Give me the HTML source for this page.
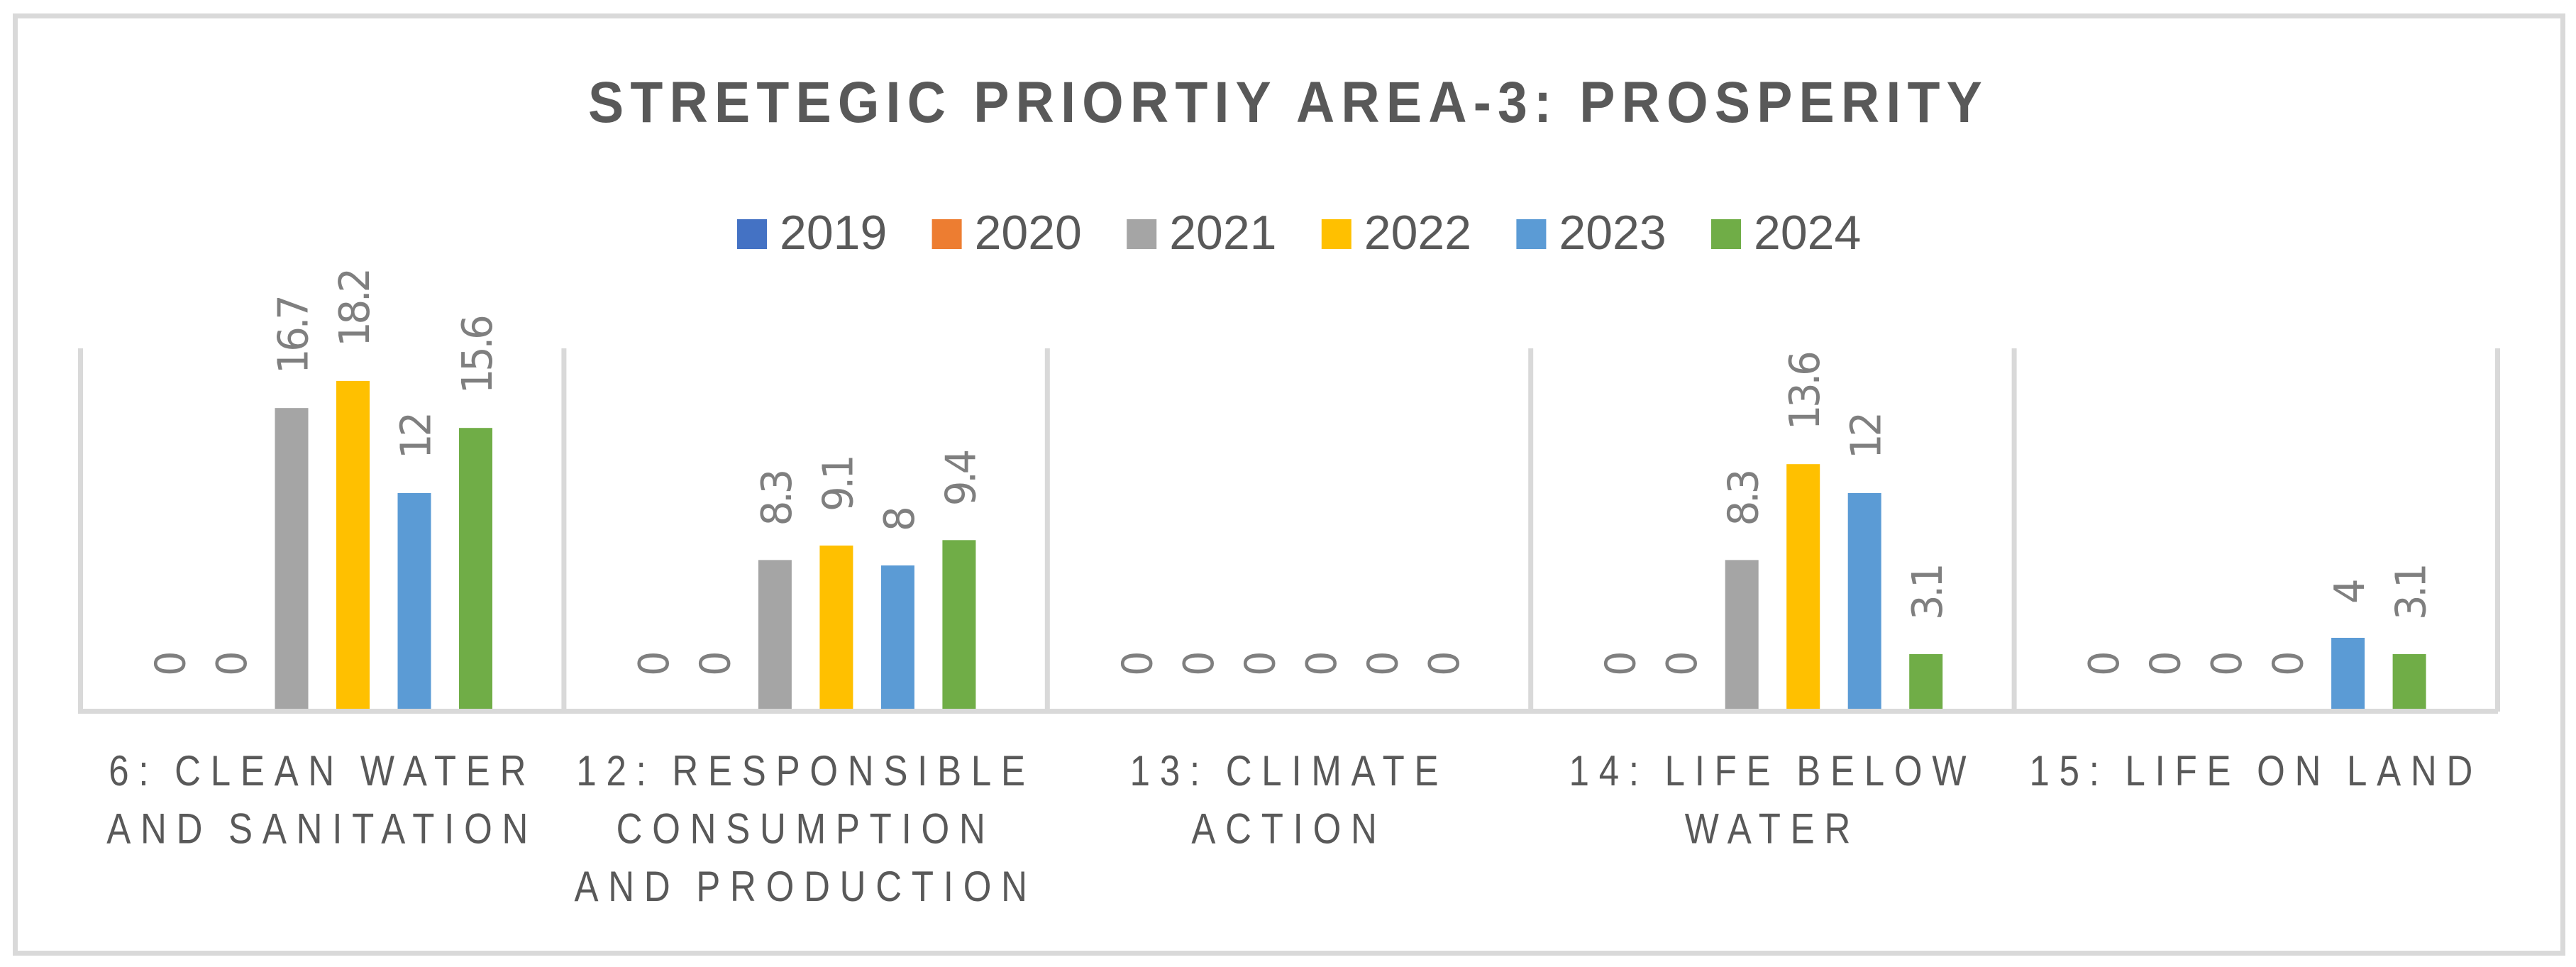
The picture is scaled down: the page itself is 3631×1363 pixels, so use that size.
<!DOCTYPE html>
<html lang="en">
<head>
<meta charset="utf-8">
<title>Stretegic Priortiy Area-3: Prosperity</title>
<style>
  html, body { margin: 0; padding: 0; background: #ffffff; }
  svg { display: block; }
  text { font-family: "Liberation Sans", sans-serif; }
</style>
</head>
<body>
<svg id="chart" xmlns="http://www.w3.org/2000/svg" width="3631" height="1363" viewBox="0 0 3631 1363">
  <rect x="0" y="0" width="3631" height="1363" fill="#ffffff"/>
  <rect x="21.5" y="22.5" width="3591" height="1321" fill="none" stroke="#d9d9d9" stroke-width="7"/>
  <text x="829" y="172" font-size="82" font-weight="700" fill="#595959" letter-spacing="10" textLength="1974" lengthAdjust="spacingAndGlyphs">STRETEGIC PRIORTIY AREA-3: PROSPERITY</text>
  <g id="legend"></g>
  <g id="gridlines"></g>
  <g id="bars"></g>
  <g id="values"></g>
  <g id="xaxis"></g>
</svg>
<script>
const years = ['2019', '2020', '2021', '2022', '2023', '2024'];
const seriesColors = ['#4472c4', '#ed7d31', '#a5a5a5', '#ffc000', '#5b9bd5', '#70ad47'];
const categoryLines = [
  ['6: CLEAN WATER', 'AND SANITATION'],
  ['12: RESPONSIBLE', 'CONSUMPTION', 'AND PRODUCTION'],
  ['13: CLIMATE', 'ACTION'],
  ['14: LIFE BELOW', 'WATER'],
  ['15: LIFE ON LAND']
];
const values2019 = [0, 0, 0, 0, 0];
const values2020 = [0, 0, 0, 0, 0];
const values2021 = [16.7, 8.3, 0, 8.3, 0];
const values2022 = [18.2, 9.1, 0, 13.6, 0];
const values2023 = [12, 8, 0, 12, 4];
const values2024 = [15.6, 9.4, 0, 3.1, 3.1];
const seriesValues = [values2019, values2020, values2021, values2022, values2023, values2024];
const axisMax = 20;

const NS = 'http://www.w3.org/2000/svg';
const plotLeft = 113.5, plotRight = 3520.5, plotTop = 491, plotBottom = 1001;
const catWidth = (plotRight - plotLeft) / categoryLines.length;
const barWidth = 47, barStep = 86.5, clusterOffset = 101;

function xBar(catIndex, seriesIndex) {
  return plotLeft + catWidth * catIndex + clusterOffset + barStep * seriesIndex;
}
function yValue(v) {
  return plotBottom - (v / axisMax) * (plotBottom - plotTop);
}
function make(tag, parent, attrs) {
  const el = document.createElementNS(NS, tag);
  for (const k in attrs) el.setAttribute(k, attrs[k]);
  parent.appendChild(el);
  return el;
}

/* legend */
const legendGroup = document.getElementById('legend');
years.forEach(function (year, i) {
  const lx = 1039 + 274.6 * i;
  const swatch = make('rect', legendGroup, { x: lx, y: 309, width: 42, height: 42, fill: seriesColors[i] });
  
  
  const label = make('text', legendGroup, { x: lx + 60, y: 351, 'font-size': 68, fill: '#595959' });
  
  
  label.textContent = year;
});

/* separators */
const gridGroup = document.getElementById('gridlines');
for (let i = 0; i <= categoryLines.length; i++) {
  const gx = plotLeft + catWidth * i;
  const sep = make('line', gridGroup, { x1: gx, x2: gx, y1: plotTop, y2: 1003, stroke: '#d9d9d9', 'stroke-width': 7 });
  
  
}

/* bars and value labels */
const barGroup = document.getElementById('bars');
const valueGroup = document.getElementById('values');
seriesValues.forEach(function (vals, s) {
  vals.forEach(function (v, c) {
    const bx = xBar(c, s);
    const top = yValue(v);
    const bar = make('rect', barGroup, { x: bx, y: top, width: barWidth, height: plotBottom - top, fill: seriesColors[s] });
    
    
    const tx = bx + barWidth - 1;
    const ty = top - 48;
    const valueLabel = make('text', valueGroup, {
      transform: 'translate(' + tx + ' ' + ty + ') rotate(-90) scale(0.95 1)',
      'font-size': 59,
      fill: '#7f7f7f',
      'letter-spacing': -4.5,
      style: 'font-family:"DejaVu Sans",sans-serif'
    });
    
    
    valueLabel.textContent = String(v);
  });
});

/* x axis */
const axisGroup = document.getElementById('xaxis');
const axisLine = make('line', axisGroup, { x1: plotLeft - 3.5, x2: plotRight + 0.5, y1: 1002.5, y2: 1002.5, stroke: '#d9d9d9', 'stroke-width': 7 });


categoryLines.forEach(function (lines, c) {
  const cx = plotLeft + catWidth * c + catWidth / 2;
  lines.forEach(function (line, j) {
    const tick = make('text', axisGroup, {
      transform: 'translate(' + cx + ' ' + (1107 + 81.5 * j) + ') scale(0.85 1)',
      'font-size': 60,
      fill: '#595959',
      'letter-spacing': 16.2,
      'word-spacing': -6,
      'text-anchor': 'middle'
    });
    
    
    tick.textContent = line;
  });
});
</script>
</body>
</html>
